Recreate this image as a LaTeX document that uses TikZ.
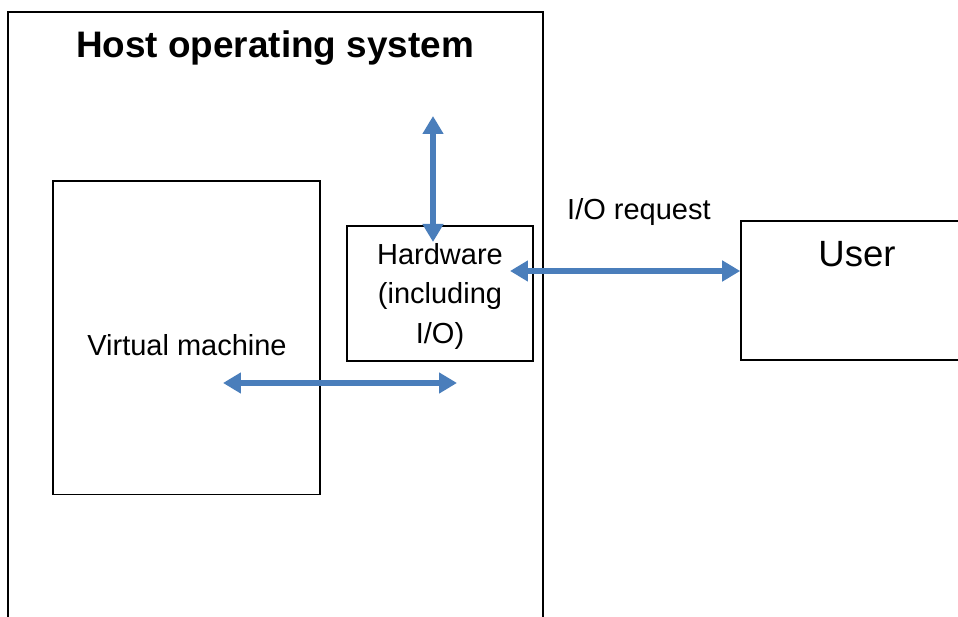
\documentclass[tikz,border=0pt]{standalone}
\usepackage{fontspec}
\setmainfont{Liberation Sans}
\usepackage{tikz}
\usetikzlibrary{positioning, arrows.meta}
\definecolor{arrowblue}{RGB}{74,126,187}
\newcommand{\labelfont}{\fontsize{16.5}{22.7}\selectfont}

\begin{document}
\begin{tikzpicture}[
      % GLOBAL CFG
      x=0.02cm, y=-0.02cm,
      font=\labelfont,
      % Styles
      box/.style={% For boxes
        rectangle,
        draw,
        line width=0.6pt,
        inner sep=0pt
      },
      bigbox/.style={% For outer boxes
        box,
        line width=0.9pt
      },
      arrowio/.style={% Blue double arrows
        arrowblue,
        line width=3.6pt,
        {Triangle[length=0.36cm,width=0.4cm]}-{Triangle[length=0.36cm,width=0.4cm]}
      }
      ]

      \useasboundingbox (0,0) rectangle (958,617);
      \clip (0,0) rectangle (958,617);

      % Draw the boxes:
      \node [bigbox, minimum width=10.7cm, minimum height=12.56cm] (host) at (275.5,326) {};
      \node [font=\fontsize{21}{25}\selectfont\bfseries] (title) at (275,48) {Host operating system};
      \node [box, minimum width=5.34cm, minimum height=6.28cm] (vm) at (186.5,338) {};
      \node (vmtext) at (187,345) {Virtual machine};
      \node [box, minimum width=3.72cm, minimum height=2.7cm] (hw) at (440,293.5) {};
      \node [align=center] (hwtext) at (440,296.5) {Hardware\\(including\\I/O)};
      \node [bigbox, minimum width=4.64cm, minimum height=2.78cm] (user) at (857,290.5) {};
      \node [font=\fontsize{20.8}{25}\selectfont] (usertext) at (857,254) {User};

      % Arrow ends
      \coordinate (hwtop) at (433,116);
      \coordinate (hwin) at (433,242);
      \coordinate (hwright) at (510,271);
      \coordinate (vmleft) at (223,383);
      \coordinate (vmright) at (457,383);

      \draw [arrowio] (hwtop) -- (hwin);
      \draw [arrowio] (hwright) -- node [above=0.72cm, pos=0.56, text=black] (ioreq) {I/O request} (hwright -| user.west);
      \draw [arrowio] (vmleft) -- (vmright);

    \end{tikzpicture}
\end{document}
